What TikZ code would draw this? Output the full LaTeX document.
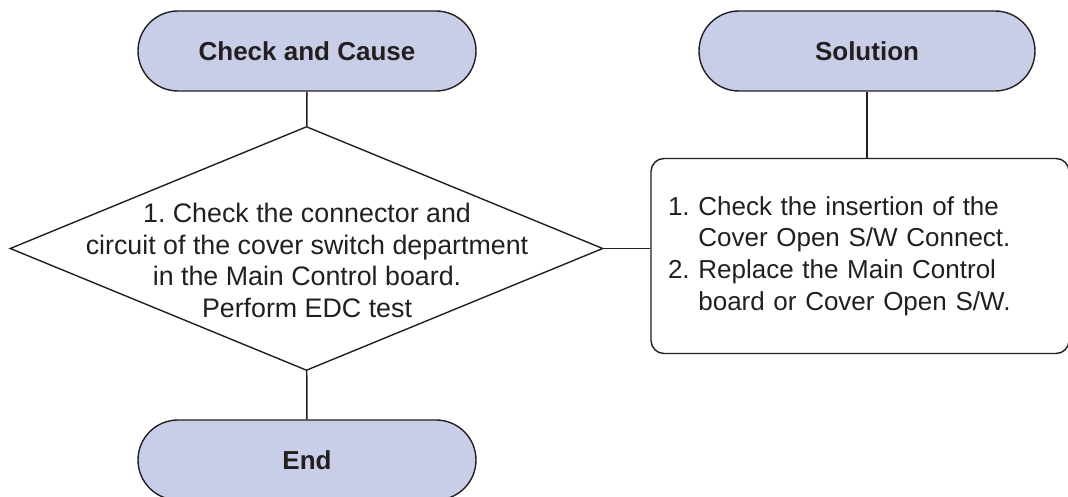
\documentclass[tikz,border=0pt]{standalone}
\usepackage{fontspec}
\setmainfont{Liberation Sans}
\usetikzlibrary{shapes.geometric,shapes.misc}
\definecolor{termfill}{HTML}{C9CEE8}
\definecolor{inkline}{HTML}{231F20}
\frenchspacing

\begin{document}
\begin{tikzpicture}[x=1pt,y=1pt,line width=1.4pt,
    term/.style={rounded rectangle,draw=inkline,fill=termfill,text=inkline,
      minimum width=338pt,minimum height=80pt,inner sep=0pt,
      font=\fontsize{26}{31.7}\selectfont\bfseries},
    decide/.style={diamond,draw=inkline,minimum width=593pt,minimum height=244pt,inner sep=0pt},
    note/.style={text=inkline,font=\fontsize{26.8}{31.7}\selectfont},
    fixbox/.style={rectangle,rounded corners=13pt,draw=inkline,minimum width=418pt,
      minimum height=195pt,inner xsep=17pt,text width=384pt,align=left,
      text=inkline,font=\fontsize{26}{31.7}\selectfont}]
  \useasboundingbox (0,0) rectangle (1068,497);
  % top of both columns
  \node[term] (cause) at (307,446) {Check and Cause};
  \node[term,minimum width=336pt] (solution) at (867,446) {Solution};
  % check
  \node[decide] (check) at (306.5,248.5) {};
  \node[note,align=center] (checktext) at (307,236.5)
    {1. Check the connector and\\circuit of the cover switch department\\
     in the Main Control board.\\Perform EDC test};
  % fix
  \node[fixbox] (fix) at (860,241)
    {1. Check the insertion of the\\\hphantom{1.\ }Cover Open S/W Connect.\\
     2. Replace the Main Control\\\hphantom{2.\ }board or Cover Open S/W.};
  \node[term] (end) at (307,37) {End};
  % connectors
  \draw[inkline] (cause) -- (check);
  \draw[inkline] (check) -- (end);
  \draw[inkline] (check.east) -- (check.east -| fix.west);
  \draw[inkline] (solution.south) -- (solution.south |- fix.north);
\end{tikzpicture}
\end{document}
